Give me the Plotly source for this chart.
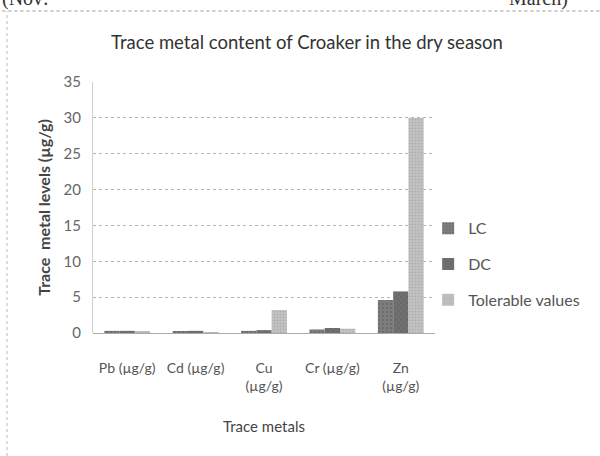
import plotly.graph_objects as go

categories = ["Pb (µg/g)", "Cd (µg/g)", "Cu<br>(µg/g)", "Cr (µg/g)", "Zn<br>(µg/g)"]
lc_values = [0.3, 0.2, 0.3, 0.5, 4.6]
dc_values = [0.3, 0.3, 0.4, 0.7, 5.8]
tolerable_values = [0.2, 0.05, 3.2, 0.6, 30.0]
y_ticks = [0, 5, 10, 15, 20, 25, 30, 35]

fig = go.Figure()
fig.add_trace(go.Bar(name="LC", x=categories, y=lc_values, legendgroup="a",
                     marker=dict(color="#7d7d7d", line=dict(width=0),
                                 pattern=dict(shape=".", fgcolor="#5e5e5e", size=4, solidity=0.3))))
fig.add_trace(go.Bar(name="DC", x=categories, y=dc_values, legendgroup="b",
                     marker=dict(color="#6a6a6a", line=dict(width=0),
                                 pattern=dict(shape="x", fgcolor="#8a8a8a", size=4, solidity=0.3))))
fig.add_trace(go.Bar(name="Tolerable values", x=categories, y=tolerable_values, legendgroup="c",
                     marker=dict(color="#c4c4c4", line=dict(width=0),
                                 pattern=dict(shape=".", fgcolor="#9a9a9a", size=3, solidity=0.4))))

fig.update_layout(
    width=600, height=456,
    margin=dict(l=93, r=165, t=82, b=123),
    paper_bgcolor="white", plot_bgcolor="white",
    barmode="group", bargap=0.33, bargroupgap=0,
    font=dict(family="Lato, Open Sans, sans-serif", color="#444"),
    title=dict(text="Trace metal content of Croaker in the dry season",
               x=(307 - 93) / 342, xref="paper", xanchor="center",
               y=(456 - 43) / 456, yref="container",
               yanchor="middle", font=dict(size=18.5, color="#333")),
    showlegend=True,
    legend=dict(x=0.98, xanchor="left", y=0.485, yanchor="top",
                font=dict(size=16, color="#555"), tracegroupgap=12,
                bgcolor="rgba(0,0,0,0)", itemwidth=30),
    xaxis=dict(tickfont=dict(size=14, color="#555"), showline=False, ticks="",
               tickangle=0, ticklabelstandoff=25,
               title=dict(text="Trace metals", font=dict(size=15, color="#444"), standoff=28)),
    yaxis=dict(range=[0, 35], tickvals=y_ticks, tickfont=dict(size=15, color="#666"),
               showgrid=True, gridcolor="#b5b5b5", griddash="dot", gridwidth=1,
               zeroline=True, zerolinecolor="#aaaaaa", zerolinewidth=1,
               showline=True, linecolor="#d0d0d0", linewidth=1, ticks="", ticklen=0,
               ticklabelstandoff=8,
               title=dict(text="<b>Trace  metal levels (µg/g)</b>",
                          font=dict(size=16, color="#444"), standoff=8)),
)

# page frame and header fragments
top_line_y = (333 - 11) / 251
left_x = -(93 - 7) / 342
fig.add_shape(type="line", xref="paper", yref="paper", x0=-0.3, x1=1.5,
              y0=top_line_y, y1=top_line_y,
              line=dict(color="#999", width=1, dash="dot"))
fig.add_shape(type="line", xref="paper", yref="paper", x0=left_x, x1=left_x,
              y0=-123 / 251, y1=top_line_y,
              line=dict(color="#bbb", width=1, dash="dot"))
fig.add_annotation(text="(Nov:", xref="paper", yref="paper", x=-93 / 342, xanchor="left",
                   y=(333 + 2) / 251, yanchor="middle", showarrow=False,
                   font=dict(family="Liberation Serif", size=20, color="#333"))
fig.add_annotation(text="March)", xref="paper", yref="paper", x=(570 - 93) / 342, xanchor="right",
                   y=(333 + 2) / 251, yanchor="middle", showarrow=False,
                   font=dict(family="Liberation Serif", size=20, color="#333"))

fig.write_html("out.html")
